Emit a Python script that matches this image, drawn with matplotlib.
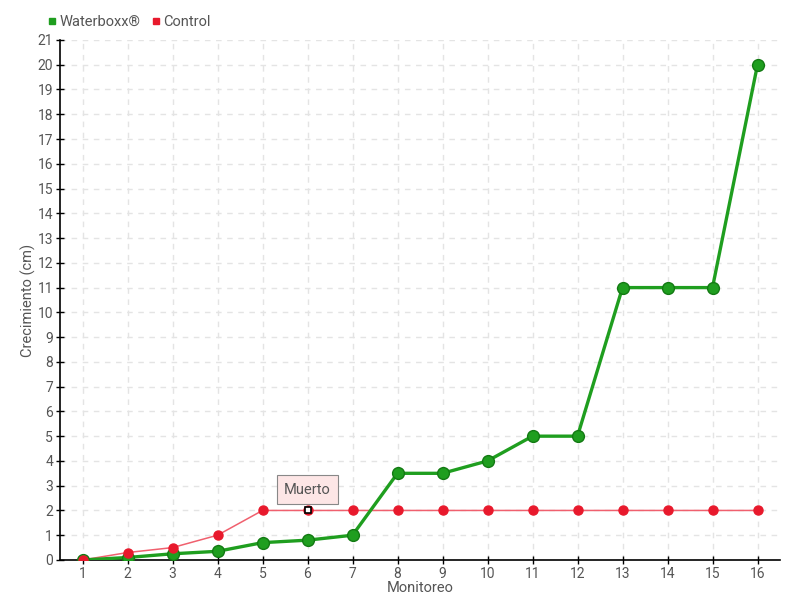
import matplotlib
matplotlib.use("Agg")
import matplotlib.pyplot as plt
from matplotlib.lines import Line2D

monitoreo = list(range(1, 17))
waterboxx = [0, 0.1, 0.25, 0.35, 0.7, 0.8, 1, 3.5, 3.5, 4, 5, 5, 11, 11, 11, 20]
control = [0, 0.3, 0.5, 1, 2, 2, 2, 2, 2, 2, 2, 2, 2, 2, 2, 2]
series_names = ["Waterboxx®", "Control"]
annot_index = 5
annot_text = "Muerto"

plt.rcParams['font.family'] = ['Roboto', 'DejaVu Sans']

txt = "#555555"
fig = plt.figure(figsize=(8, 6), dpi=100)
ax = fig.add_axes([0.075, 0.0667, 0.9, 0.8667])

green = "#1f9e1f"
red = "#e8192c"

ax.plot(monitoreo, control, color="#f0606e", lw=1.1, zorder=3)
ax.plot(monitoreo, waterboxx, color=green, lw=2.4, zorder=4)
ax.plot(monitoreo, waterboxx, ls="none", marker="o", ms=8.5, mfc=green, mec="#137a13", mew=1, zorder=5)
ax.plot(monitoreo, control, ls="none", marker="o", ms=6.5, mfc=red, mec=red, zorder=6)
ax.plot([monitoreo[annot_index]], [control[annot_index]], ls="none", marker="s", ms=4,
        mfc="white", mec="black", mew=1.2, zorder=7)

ax.annotate(annot_text, xy=(monitoreo[annot_index], control[annot_index]),
            xytext=(0, 15), textcoords="offset points", ha="center", va="center",
            fontsize=10.5, color=txt,
            bbox=dict(boxstyle="square,pad=0.5", fc="#fde6e6", ec="#888888", lw=0.8),
            zorder=8)

ax.set_xlim(0.5, 16.5)
ax.set_ylim(0, 21)
ax.set_xticks(monitoreo)
ax.set_yticks(range(0, 22))
ax.grid(True, ls=(0, (4, 4)), color="#e4e4e4", lw=1)
ax.set_axisbelow(True)
for s in ["top", "right"]:
    ax.spines[s].set_visible(False)
for s in ["left", "bottom"]:
    ax.spines[s].set_color("black")
    ax.spines[s].set_linewidth(1.2)
ax.tick_params(direction="inout", length=6, width=1, colors="black", labelcolor=txt, labelsize=10, pad=2)

ax.set_xlabel("Monitoreo", color=txt, fontsize=10.5)
ax.set_ylabel("Crecimiento (cm)", color=txt, fontsize=10.5)
ax.yaxis.set_label_coords(-0.034, 0.5)
ax.xaxis.set_label_coords(0.5, -0.04)

handles = [Line2D([], [], ls="none", marker="s", ms=4.5, color=green),
           Line2D([], [], ls="none", marker="s", ms=4.5, color=red)]
leg = fig.legend(handles, series_names, loc="upper left", bbox_to_anchor=(0.052, 0.985),
                 frameon=False, ncol=2, handlelength=0.6, handletextpad=0.2,
                 columnspacing=0.8, fontsize=10.5, labelcolor=txt, borderaxespad=0)

fig.savefig("out.png", dpi=100)
